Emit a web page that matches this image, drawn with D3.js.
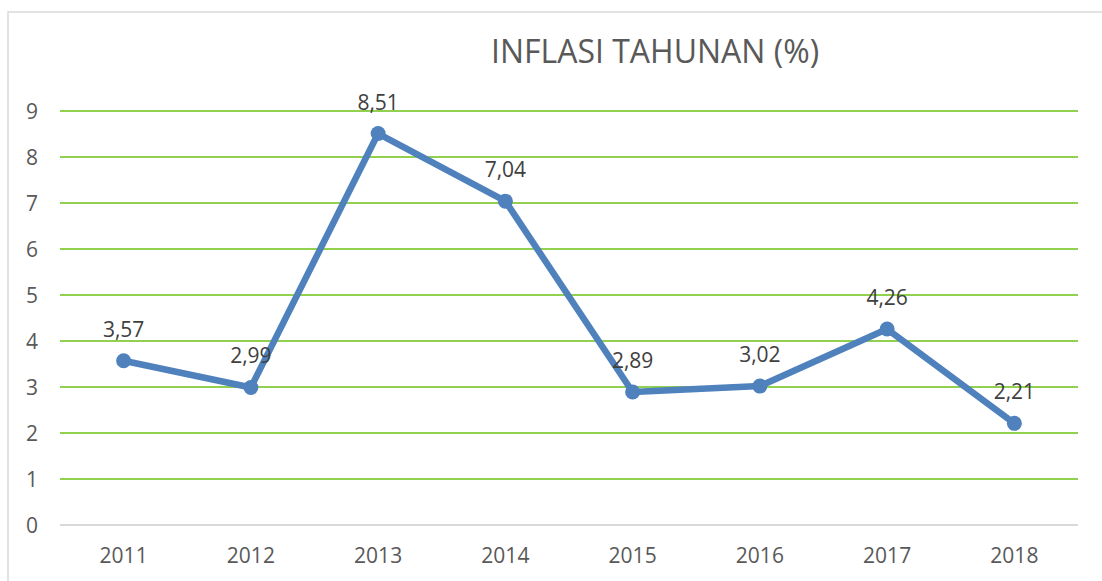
<!DOCTYPE html>
<html>
<head>
  <meta charset="utf-8">
  <title>Inflasi Tahunan</title>
  <script src="https://cdn.jsdelivr.net/npm/d3@7"></script>
  <style>
    body { margin: 0; background: #fff; }
    svg text { font-family: "Open Sans", sans-serif; }
  </style>
</head>
<body>
<svg id="chart" width="1102" height="581"></svg>
<script>
  var years = ['2011', '2012', '2013', '2014', '2015', '2016', '2017', '2018'];
  var inflasi = [3.57, 2.99, 8.51, 7.04, 2.89, 3.02, 4.26, 2.21];
  var yTicks = [0, 1, 2, 3, 4, 5, 6, 7, 8, 9];

  var svg = d3.select('#chart');
  var margin = {left: 60, right: 1078, top: 111, bottom: 525};

  // chart frame (right and bottom edges fall outside the picture)
  svg.append('rect')
    .attr('x', 8).attr('y', 12)
    .attr('width', 1110).attr('height', 600)
    .attr('fill', 'none')
    .attr('stroke', '#d9d9d9')
    .attr('stroke-width', 1.5);

  var x = d3.scaleBand().domain(years).range([margin.left, margin.right]);
  var y = d3.scaleLinear().domain([0, 9]).range([margin.bottom, margin.top]);

  // gridlines
  svg.append('g').selectAll('line')
    .data(yTicks)
    .join('line')
      .attr('x1', margin.left).attr('x2', margin.right)
      .attr('y1', function(d) { return y(d); })
      .attr('y2', function(d) { return y(d); })
      .attr('stroke', function(d) { return d === 0 ? '#d9d9d9' : '#92d050'; })
      .attr('stroke-width', 2);

  // y axis labels
  svg.append('g').selectAll('text')
    .data(yTicks)
    .join('text')
      .attr('x', 38)
      .attr('y', function(d) { return y(d); })
      .attr('dy', '0.36em')
      .attr('text-anchor', 'end')
      .attr('fill', '#595959')
      .attr('font-size', 21)
      .text(function(d) { return d; });

  // x axis labels
  svg.append('g').selectAll('text')
    .data(years)
    .join('text')
      .attr('x', function(d) { return x(d) + x.bandwidth() / 2; })
      .attr('y', 563)
      .attr('text-anchor', 'middle')
      .attr('fill', '#595959')
      .attr('font-size', 21)
      .text(function(d) { return d; });

  var pts = years.map(function(yr, i) { return {year: yr, value: inflasi[i]}; });
  var cx = function(d) { return x(d.year) + x.bandwidth() / 2; };

  var line = d3.line()
    .x(cx)
    .y(function(d) { return y(d.value); });

  svg.append('path')
    .datum(pts)
    .attr('d', line)
    .attr('fill', 'none')
    .attr('stroke', '#4f81bd')
    .attr('stroke-width', 6.5)
    .attr('stroke-linejoin', 'round');

  svg.append('g').selectAll('circle')
    .data(pts)
    .join('circle')
      .attr('cx', cx)
      .attr('cy', function(d) { return y(d.value); })
      .attr('r', 7.5)
      .attr('fill', '#4f81bd');

  // data labels
  svg.append('g').selectAll('text')
    .data(pts)
    .join('text')
      .attr('x', cx)
      .attr('y', function(d) { return y(d.value) - 24; })
      .attr('text-anchor', 'middle')
      .attr('fill', '#404040')
      .attr('font-size', 21)
      .text(function(d) { return d.value.toFixed(2).replace('.', ','); });

  // title
  svg.append('text')
    .attr('x', 655)
    .attr('y', 63)
    .attr('text-anchor', 'middle')
    .attr('fill', '#595959')
    .attr('font-size', 32)
    .text('INFLASI TAHUNAN (%)');
</script>
</body>
</html>
